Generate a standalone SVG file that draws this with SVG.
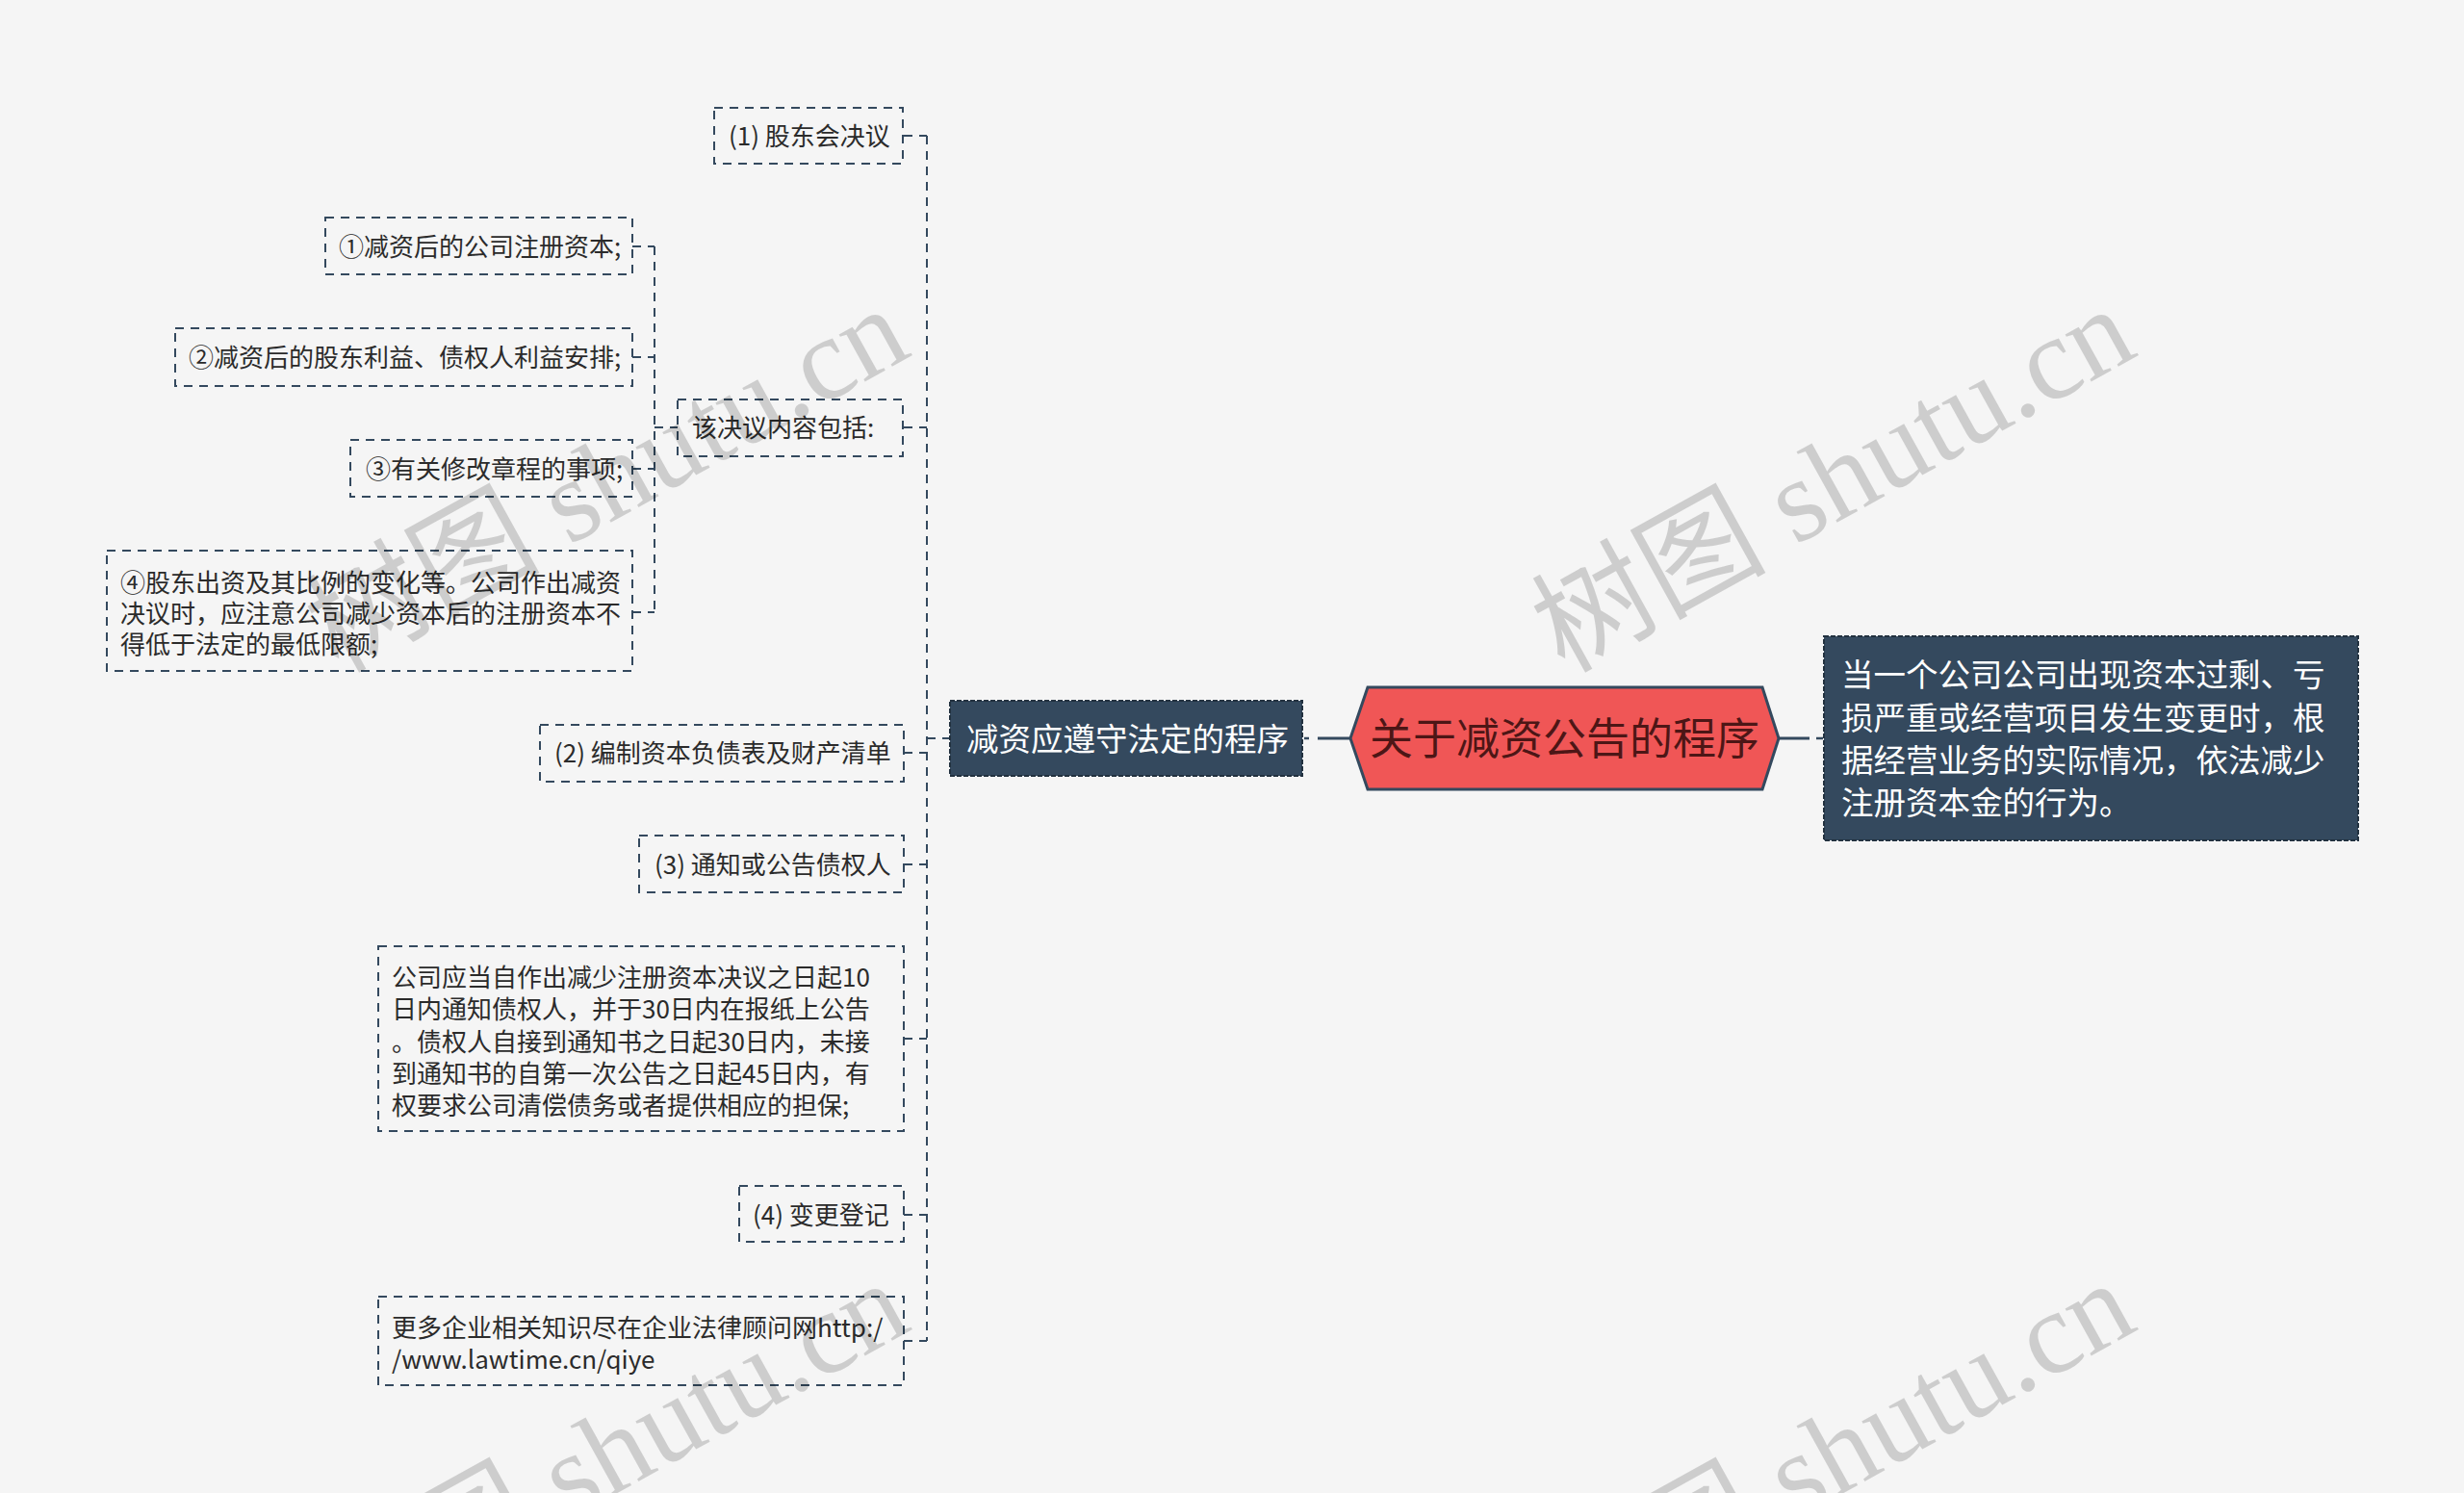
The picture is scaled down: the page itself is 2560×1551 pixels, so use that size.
<svg xmlns="http://www.w3.org/2000/svg" width="2560" height="1551" viewBox="0 0 2560 1551">
<style>
.bg{fill:#f5f5f5}
.box{fill:#f5f5f5;stroke:#34495e;stroke-width:2;stroke-dasharray:9 7}
.t{font-family:"Noto Sans CJK SC","Noto Sans",sans-serif;font-size:26px;fill:#2b2b2b}
.c{fill:none;stroke:#34495e;stroke-width:2;stroke-dasharray:9 7}
.dark{fill:#34495e;stroke:#22313f;stroke-width:2;stroke-dasharray:5 2}
.wt{font-family:"Noto Sans CJK SC","Noto Sans",sans-serif;font-size:33.5px;fill:#ffffff}
.wm{font-family:"Liberation Serif","Noto Sans CJK SC",serif;font-size:122px;fill:#000;fill-opacity:0.16}
</style>
<rect class="bg" x="0" y="0" width="2560" height="1551"/>

<g id="connectors">
  <path class="c" d="M963 141 V1393"/>
  <path class="c" d="M939 141 H963"/>
  <path class="c" d="M939 444 H963"/>
  <path class="c" d="M939 782 H963"/>
  <path class="c" d="M939 898 H963"/>
  <path class="c" d="M939 1079 H963"/>
  <path class="c" d="M939 1262 H963"/>
  <path class="c" d="M939 1393 H963"/>
  <path class="c" d="M963 767 H988"/>
  <path class="c" d="M680 256 V636"/>
  <path class="c" d="M657 256 H680"/>
  <path class="c" d="M657 371 H680"/>
  <path class="c" d="M657 487 H680"/>
  <path class="c" d="M657 636 H680"/>
  <path class="c" d="M680 444 H704"/>
  <path fill="none" stroke="#34495e" stroke-width="2.5" d="M1355 767 H1360"/>
  <path fill="none" stroke="#34495e" stroke-width="3" d="M1369 767 H1404"/>
  <path fill="none" stroke="#34495e" stroke-width="3" d="M1847 767 H1880"/>
  <path fill="none" stroke="#34495e" stroke-width="2.5" d="M1887 767 H1894"/>
</g>

<g id="root">
  <polygon points="1403,767 1421,714 1831,714 1848,767 1831,820 1421,820" fill="#f05656" stroke="#34495e" stroke-width="3"/>
  <text x="1625.5" y="784" text-anchor="middle" font-family="Noto Sans CJK SC, Noto Sans, sans-serif" font-size="45" fill="#4d1616">关于减资公告的程序</text>
</g>

<g id="desc">
  <rect class="dark" x="1895" y="661" width="555" height="212"/>
  <text class="wt" x="1913" y="713">当一个公司公司出现资本过剩、亏</text>
  <text class="wt" x="1913" y="758">损严重或经营项目发生变更时，根</text>
  <text class="wt" x="1913" y="802">据经营业务的实际情况，依法减少</text>
  <text class="wt" x="1913" y="846">注册资本金的行为。</text>
</g>

<g id="branch">
  <rect class="dark" x="987" y="728" width="366" height="78"/>
  <text class="wt" x="1004" y="780">减资应遵守法定的程序</text>
</g>

<g id="n1">
  <rect class="box" x="742" y="112" width="196" height="58"/>
  <text class="t" x="757" y="151">(1) 股东会决议</text>
</g>

<g id="n-resolution">
  <rect class="box" x="704" y="415" width="234" height="59"/>
  <text class="t" x="719" y="454">该决议内容包括:</text>
</g>

<g id="n-r1">
  <rect class="box" x="338" y="226" width="319" height="59"/>
  <text class="t" x="352" y="266">①减资后的公司注册资本;</text>
</g>

<g id="n-r2">
  <rect class="box" x="182" y="341" width="475" height="60"/>
  <text class="t" x="196" y="381">②减资后的股东利益、债权人利益安排;</text>
</g>

<g id="n-r3">
  <rect class="box" x="364" y="457" width="293" height="59"/>
  <text class="t" x="380" y="497">③有关修改章程的事项;</text>
</g>

<g id="n-r4">
  <rect class="box" x="111" y="572" width="546" height="125"/>
  <text class="t" x="125" y="615">④股东出资及其比例的变化等。公司作出减资</text>
  <text class="t" x="125" y="647">决议时，应注意公司减少资本后的注册资本不</text>
  <text class="t" x="125" y="679">得低于法定的最低限额;</text>
</g>

<g id="n2">
  <rect class="box" x="561" y="753" width="378" height="59"/>
  <text class="t" x="576" y="792">(2) 编制资本负债表及财产清单</text>
</g>

<g id="n3">
  <rect class="box" x="664" y="868" width="275" height="59"/>
  <text class="t" x="680" y="908">(3) 通知或公告债权人</text>
</g>

<g id="n3-detail">
  <rect class="box" x="393" y="983" width="546" height="192"/>
  <text class="t" x="407" y="1025">公司应当自作出减少注册资本决议之日起10</text>
  <text class="t" x="407" y="1058">日内通知债权人，并于30日内在报纸上公告</text>
  <text class="t" x="407" y="1092">。债权人自接到通知书之日起30日内，未接</text>
  <text class="t" x="407" y="1125">到通知书的自第一次公告之日起45日内，有</text>
  <text class="t" x="407" y="1158">权要求公司清偿债务或者提供相应的担保;</text>
</g>

<g id="n4">
  <rect class="box" x="768" y="1232" width="171" height="58"/>
  <text class="t" x="782" y="1272">(4) 变更登记</text>
</g>

<g id="n-more">
  <rect class="box" x="393" y="1347" width="546" height="92"/>
  <text class="t" x="407" y="1389">更多企业相关知识尽在企业法律顾问网http:/</text>
  <text class="t" x="407" y="1422">/www.lawtime.cn/qiye</text>
</g>

<g id="watermarks">
  <text class="wm" transform="translate(1625,700) rotate(-29)">树图 shutu.cn</text>
  <text class="wm" transform="translate(351,700) rotate(-29)">树图 shutu.cn</text>
  <text class="wm" transform="translate(1625,1712) rotate(-29)">树图 shutu.cn</text>
  <text class="wm" transform="translate(351,1712) rotate(-29)">树图 shutu.cn</text>
</g>
</svg>
